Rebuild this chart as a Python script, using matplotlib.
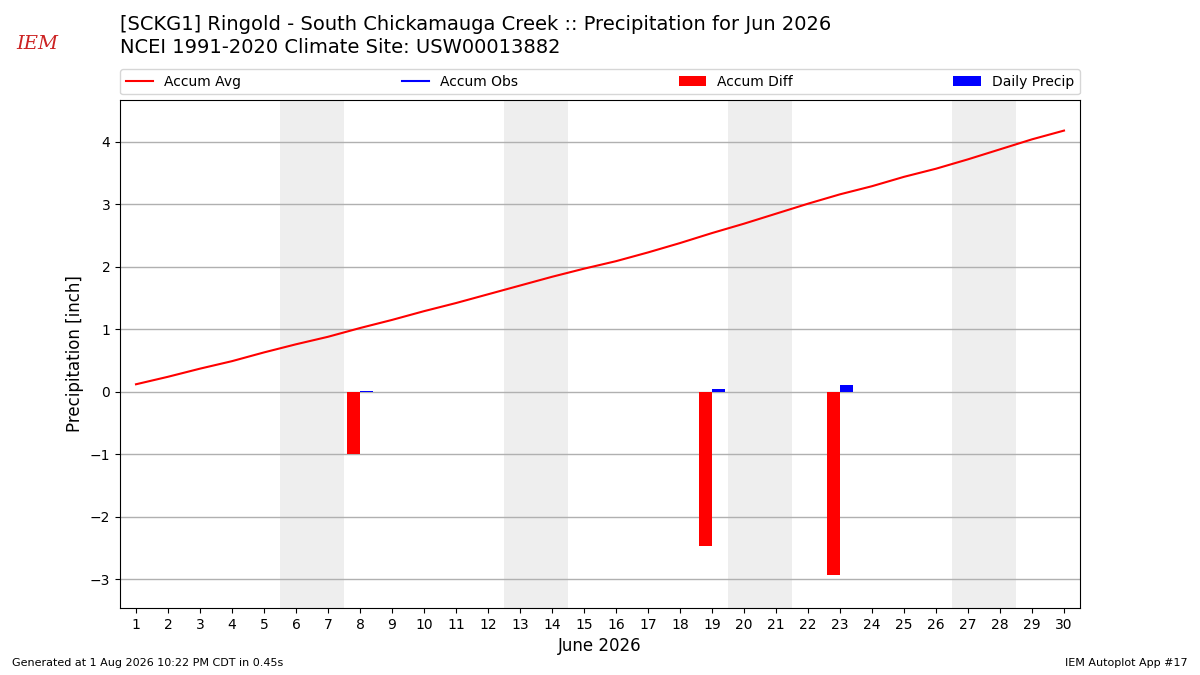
import numpy as np
import matplotlib
matplotlib.use("Agg")
import matplotlib.pyplot as plt

days = list(range(1, 31))
accum_avg = [0.12, 0.24, 0.37, 0.49, 0.63, 0.76, 0.88, 1.02, 1.15, 1.29,
             1.42, 1.56, 1.70, 1.84, 1.97, 2.09, 2.23, 2.38, 2.54, 2.69,
             2.85, 3.01, 3.16, 3.29, 3.44, 3.57, 3.72, 3.88, 4.04, 4.18]
obs_days = [8, 19, 23]
accum_diff = [-0.99, -2.47, -2.93]
daily_precip = [0.01, 0.04, 0.11]
accum_obs = [0.01, 0.05, 0.16]
weekends = [(6, 7), (13, 14), (20, 21), (27, 28)]

title = ("[SCKG1] Ringold - South Chickamauga Creek :: Precipitation for Jun 2026\n"
         "NCEI 1991-2020 Climate Site: USW00013882")

fig = plt.figure(figsize=(12, 6.75), dpi=100)
ax = fig.add_axes([0.1, 0.0993, 0.8, 0.7526])

for a, b in weekends:
    ax.axvspan(a - 0.5, b + 0.5, color="#eeeeee", zorder=0, lw=0)

ax.plot(days, accum_avg, color="red", lw=1.5, label="Accum Avg", zorder=3)
obs_line = [np.nan] * len(days)
for d, v in zip(obs_days, accum_obs):
    obs_line[d - 1] = v
ax.plot(days, obs_line, color="blue", lw=1.5, label="Accum Obs", zorder=3)
ax.bar(obs_days, accum_diff, width=-0.4, align="edge", color="red",
       label="Accum Diff", zorder=2)
ax.bar(obs_days, daily_precip, width=0.4, align="edge", color="blue",
       label="Daily Precip", zorder=2)

ax.set_xlim(0.5, 30.5)
ax.set_ylim(-3.46, 4.67)
ax.set_xticks(days)
ax.set_xticklabels([str(d) for d in days])
ax.set_yticks([-3, -2, -1, 0, 1, 2, 3, 4])
ax.set_yticklabels(["\u22123", "\u22122", "\u22121", "0", "1", "2", "3", "4"])
ax.yaxis.grid(True, color="#b0b0b0", lw=1, zorder=1)
ax.set_axisbelow(True)
ax.tick_params(labelsize=10)
ax.set_xlabel("June 2026", fontsize=12)
ax.set_ylabel("Precipitation [inch]", fontsize=12)

ax.legend(loc="lower left", bbox_to_anchor=(0, 1.011, 1, 0.05), mode="expand",
          ncol=4, borderaxespad=0, fontsize=10, handlelength=2.0)

fig.text(0.1, 0.978, title, fontsize=14, ha="left", va="top", linespacing=1.25)
fig.text(0.01, 0.01, "Generated at 1 Aug 2026 10:22 PM CDT in 0.45s",
         fontsize=8, ha="left", va="bottom")
fig.text(0.99, 0.01, "IEM Autoplot App #17", fontsize=8, ha="right", va="bottom")
fig.text(0.031, 0.935, "IEM", fontsize=14, color="#cc2222", family="DejaVu Serif",
         style="italic", ha="center", va="center")

fig.savefig("out.png", dpi=100)
